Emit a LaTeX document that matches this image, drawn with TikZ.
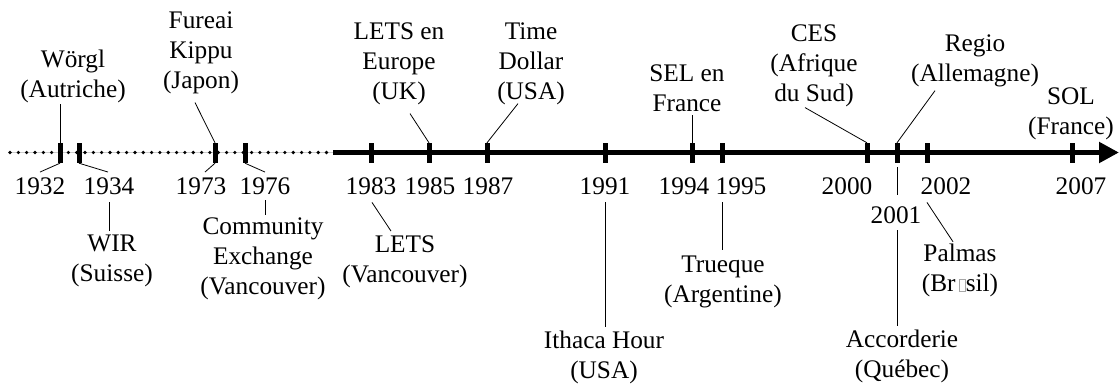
\documentclass[tikz,border=0pt]{standalone}
\usepackage{fontspec}
\setmainfont{Liberation Serif}
\usetikzlibrary{arrows.meta}
\newcommand\missingbox{\hspace{3pt}{\color{gray!70}\fboxsep=0pt\fboxrule=0.6pt\fbox{\rule{0pt}{11pt}\hspace{6pt}}}}
\begin{document}
\begin{tikzpicture}[x=1pt,y=-1pt,
  lbl/.style={font=\fontsize{25.3}{30}\selectfont, align=center, inner sep=0pt, anchor=base},
  yr/.style={font=\fontsize{25.3}{30}\selectfont, inner sep=0pt, anchor=base},
  tickmark/.style={fill=black, draw=none, inner sep=0pt, minimum width=5pt, minimum height=20pt},
  conn/.style={line width=0.8pt}]
\useasboundingbox (0,0) rectangle (1120,385);
% axis
\coordinate (axL) at (10,152.5);
\coordinate (axM) at (333,152.5);
\coordinate (axR) at (1119,152.5);
\draw[gray!40, line width=1.6pt] (axL) -- (axM);
\draw[line width=3.6pt, line cap=round, dash pattern=on 0pt off 8.33pt] (axL) -- (axM);
\draw[line width=5.3pt, -{Triangle[length=20pt,width=20pt]}] (axM) -- (axR);
% ticks
\foreach \yy/\xx in {1932/60,1934/79,1973/215,1976/245,1983/371,1985/429,1987/487,1991/605,1994/692,1995/722,2000/867,2001/897,2002/927,2007/1072}
  \node[tickmark] (t\yy) at (\xx,153) {};
% year labels
\node[yr] (y1932) at (40,195) {1932};
\node[yr] (y1934) at (109,195) {1934};
\node[yr] (y1973) at (201,195) {1973};
\node[yr] (y1976) at (265,195) {1976};
\node[yr] (y1983) at (371,195) {1983};
\node[yr] (y1985) at (430,195) {1985};
\node[yr] (y1987) at (488,195) {1987};
\node[yr] (y1991) at (605,195) {1991};
\node[yr] (y1994) at (684,195) {1994};
\node[yr] (y1995) at (741,195) {1995};
\node[yr] (y2000) at (847,195) {2000};
\node[yr] (y2001) at (896,223) {2001};
\node[yr] (y2002) at (946,195) {2002};
\node[yr] (y2007) at (1081,195) {2007};
% event labels above
\node[lbl] (woergl) at (73,98) {Wörgl\\(Autriche)};
\node[lbl] (fureai) at (201,89) {Fureai\\Kippu\\(Japon)};
\node[lbl] (letseu) at (399,100) {LETS en\\Europe\\(UK)};
\node[lbl] (timedollar) at (531,100) {Time\\Dollar\\(USA)};
\node[lbl] (selfr) at (687,112) {SEL en\\France};
\node[lbl] (ces) at (814,102) {CES\\(Afrique\\du Sud)};
\node[lbl] (regio) at (975,82) {Regio\\(Allemagne)};
\node[lbl] (sol) at (1071,135) {SOL\\(France)};
% event labels below
\node[lbl] (wir) at (112,281) {WIR\\(Suisse)};
\node[lbl] (community) at (263,294) {Community\\Exchange\\(Vancouver)};
\node[lbl] (letsvan) at (405,282) {LETS\\(Vancouver)};
\node[lbl] (ithaca) at (604,378) {Ithaca Hour\\(USA)};
\node[lbl] (trueque) at (723,302) {Trueque\\(Argentine)};
\node[lbl] (palmas) at (960,291) {Palmas\\(Br\missingbox sil)};
\node[lbl] (accorderie) at (902,377) {Accorderie\\(Québec)};
% connectors above
\draw[conn] (t1932.north) -- (t1932.north |- woergl.south);
\draw[conn] ([shift={(-6,8)}]fureai.south) -- (t1973.north);
\draw[conn] ([shift={(11,8)}]letseu.south) -- (t1985.north);
\draw[conn] ([shift={(-13,-2)}]timedollar.south) -- (t1987.north);
\draw[conn, shorten >=3pt] (t1994.north) -- (t1994.north |- selfr.south);
\draw[conn] ([shift={(-9,0)}]ces.south) -- (t2000.north);
\draw[conn] ([shift={(-40,3)}]regio.south) -- (t2001.north);
% connectors below
\draw[conn] (t1932.south) -- ([yshift=6pt]y1932.north);
\draw[conn] (t1934.south) -- ([shift={(-1,-6)}]y1934.north);
\draw[conn] (t1973.south) -- ([shift={(4,-6)}]y1973.north);
\draw[conn] (t1976.south) -- ([yshift=6pt]y1976.north);
\draw[conn, shorten <=7pt, shorten >=3pt] (y1934.south) -- (y1934.south |- wir.north);
\draw[conn, shorten <=5pt, shorten >=2.5pt] (y1976.south) -- (y1976.south |- community.north);
\draw[conn] ([shift={(1,7)}]y1983.south) -- ([shift={(-14,-4)}]letsvan.north);
\draw[conn, shorten <=7pt, shorten >=3.5pt] (y1991.south) -- (y1991.south |- ithaca.north);
\draw[conn, shorten <=7pt, shorten >=5pt] (t1995.south |- y1995.south) -- (t1995.south |- trueque.north);
\draw[conn] ([shift={(-19,7)}]y2002.south) -- ([shift={(-7,-1.5)}]palmas.north);
\draw[conn, shorten <=4pt, shorten >=11pt] (t2001.south) -- (t2001.south |- y2001.north);
\draw[conn, shorten <=7pt, shorten >=3pt] (t2001.south |- y2001.south) -- (t2001.south |- accorderie.north);
\end{tikzpicture}
\end{document}
